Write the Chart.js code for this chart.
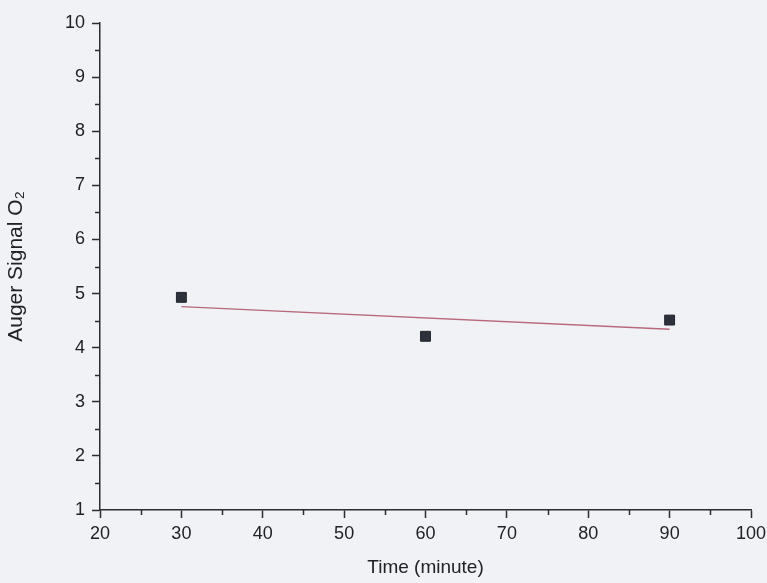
<!doctype html>
<html lang="en">
<head>
  <meta charset="utf-8">
  <title>Auger Signal O2 vs Time</title>
  <script src="https://cdn.jsdelivr.net/npm/chart.js"></script>
  <style>
    html, body { margin: 0; padding: 0; background: #f1f2f6; }
    #wrap { width: 767px; height: 583px; }
  </style>
</head>
<body>
<div id="wrap"><canvas id="myChart" width="767" height="583"></canvas></div>

<script>
  // data
  const timeMinutes = [30, 60, 90];
  const augerO2 = [4.93, 4.21, 4.51];
  // linear fit line end points
  const fitTime = [30, 90];
  const fitSignal = [4.76, 4.34];

  const xMin = 20, xMax = 100, xStep = 10;
  const yMin = 1, yMax = 10, yStep = 1;

  const axisColor = '#2b2b30';
  const textColor = '#222226';
  const font = 'Liberation Sans, Arial, sans-serif';

  // small in-between ticks, like the original plot
  const minorTicks = {
    id: 'minorTicks',
    afterDraw(chart) {
      const ctx = chart.ctx;
      const x = chart.scales.x, y = chart.scales.y;
      ctx.save();
      ctx.strokeStyle = axisColor;
      ctx.lineWidth = 1.5;
      ctx.beginPath();
      for (let v = xMin + xStep / 2; v < xMax; v += xStep) {
        const px = Math.round(x.getPixelForValue(v)) + 0.5;
        ctx.moveTo(px, y.bottom);
        ctx.lineTo(px, y.bottom + 5);
      }
      for (let v = yMin + yStep / 2; v < yMax; v += yStep) {
        const py = Math.round(y.getPixelForValue(v)) + 0.5;
        ctx.moveTo(x.left, py);
        ctx.lineTo(x.left - 5, py);
      }
      ctx.stroke();
      ctx.restore();
    }
  };

  const pts = timeMinutes.map((t, i) => ({x: t, y: augerO2[i]}));
  const fitPts = fitTime.map((t, i) => ({x: t, y: fitSignal[i]}));

  new Chart(document.getElementById('myChart'), {
    type: 'scatter',
    data: {
      datasets: [{
        label: 'Auger Signal O2',
        data: pts,
        pointStyle: 'rect',
        pointRadius: 7,
        backgroundColor: '#2c313c',
        borderColor: '#22262e',
        borderWidth: 1
      }, {
        type: 'line',
        label: 'Linear fit',
        data: fitPts,
        borderColor: '#b7687a',
        borderWidth: 1.3,
        pointRadius: 0,
        fill: false
      }]
    },
    options: {
      responsive: false,
      animation: false,
      layout: { padding: { top: 23, right: 16, left: 0, bottom: 0 } },
      plugins: {
        legend: { display: false },
        tooltip: { enabled: false }
      },
      scales: {
        x: {
          type: 'linear',
          min: xMin, max: xMax,
          ticks: {
            stepSize: xStep,
            color: textColor,
            font: { family: font, size: 18 },
            padding: 5,
            maxRotation: 0
          },
          grid: {
            drawOnChartArea: false,
            drawTicks: true,
            tickLength: 8,
            tickWidth: 1.5,
            tickColor: axisColor
          },
          border: { color: axisColor, width: 1.5 },
          title: {
            display: true,
            text: 'Time (minute)',
            color: textColor,
            font: { family: font, size: 19 },
            padding: { top: 9 }
          },
          afterFit(scale) {
            scale.height = 73;
            scale.paddingRight = 0;
            scale.paddingLeft = 0;
          }
        },
        y: {
          type: 'linear',
          min: yMin, max: yMax,
          ticks: {
            stepSize: yStep,
            color: textColor,
            font: { family: font, size: 18 },
            padding: 7
          },
          grid: {
            drawOnChartArea: false,
            drawTicks: true,
            tickLength: 8,
            tickWidth: 1.5,
            tickColor: axisColor
          },
          border: { color: axisColor, width: 1.5 },
          title: {
            display: true,
            text: 'Auger Signal O₂',
            color: textColor,
            font: { family: font, size: 21 },
            padding: { bottom: 9 }
          },
          afterFit(scale) {
            scale.width = 100;
            scale.paddingTop = 0;
          }
        }
      }
    },
    plugins: [minorTicks]
  });
</script>
</body>
</html>
